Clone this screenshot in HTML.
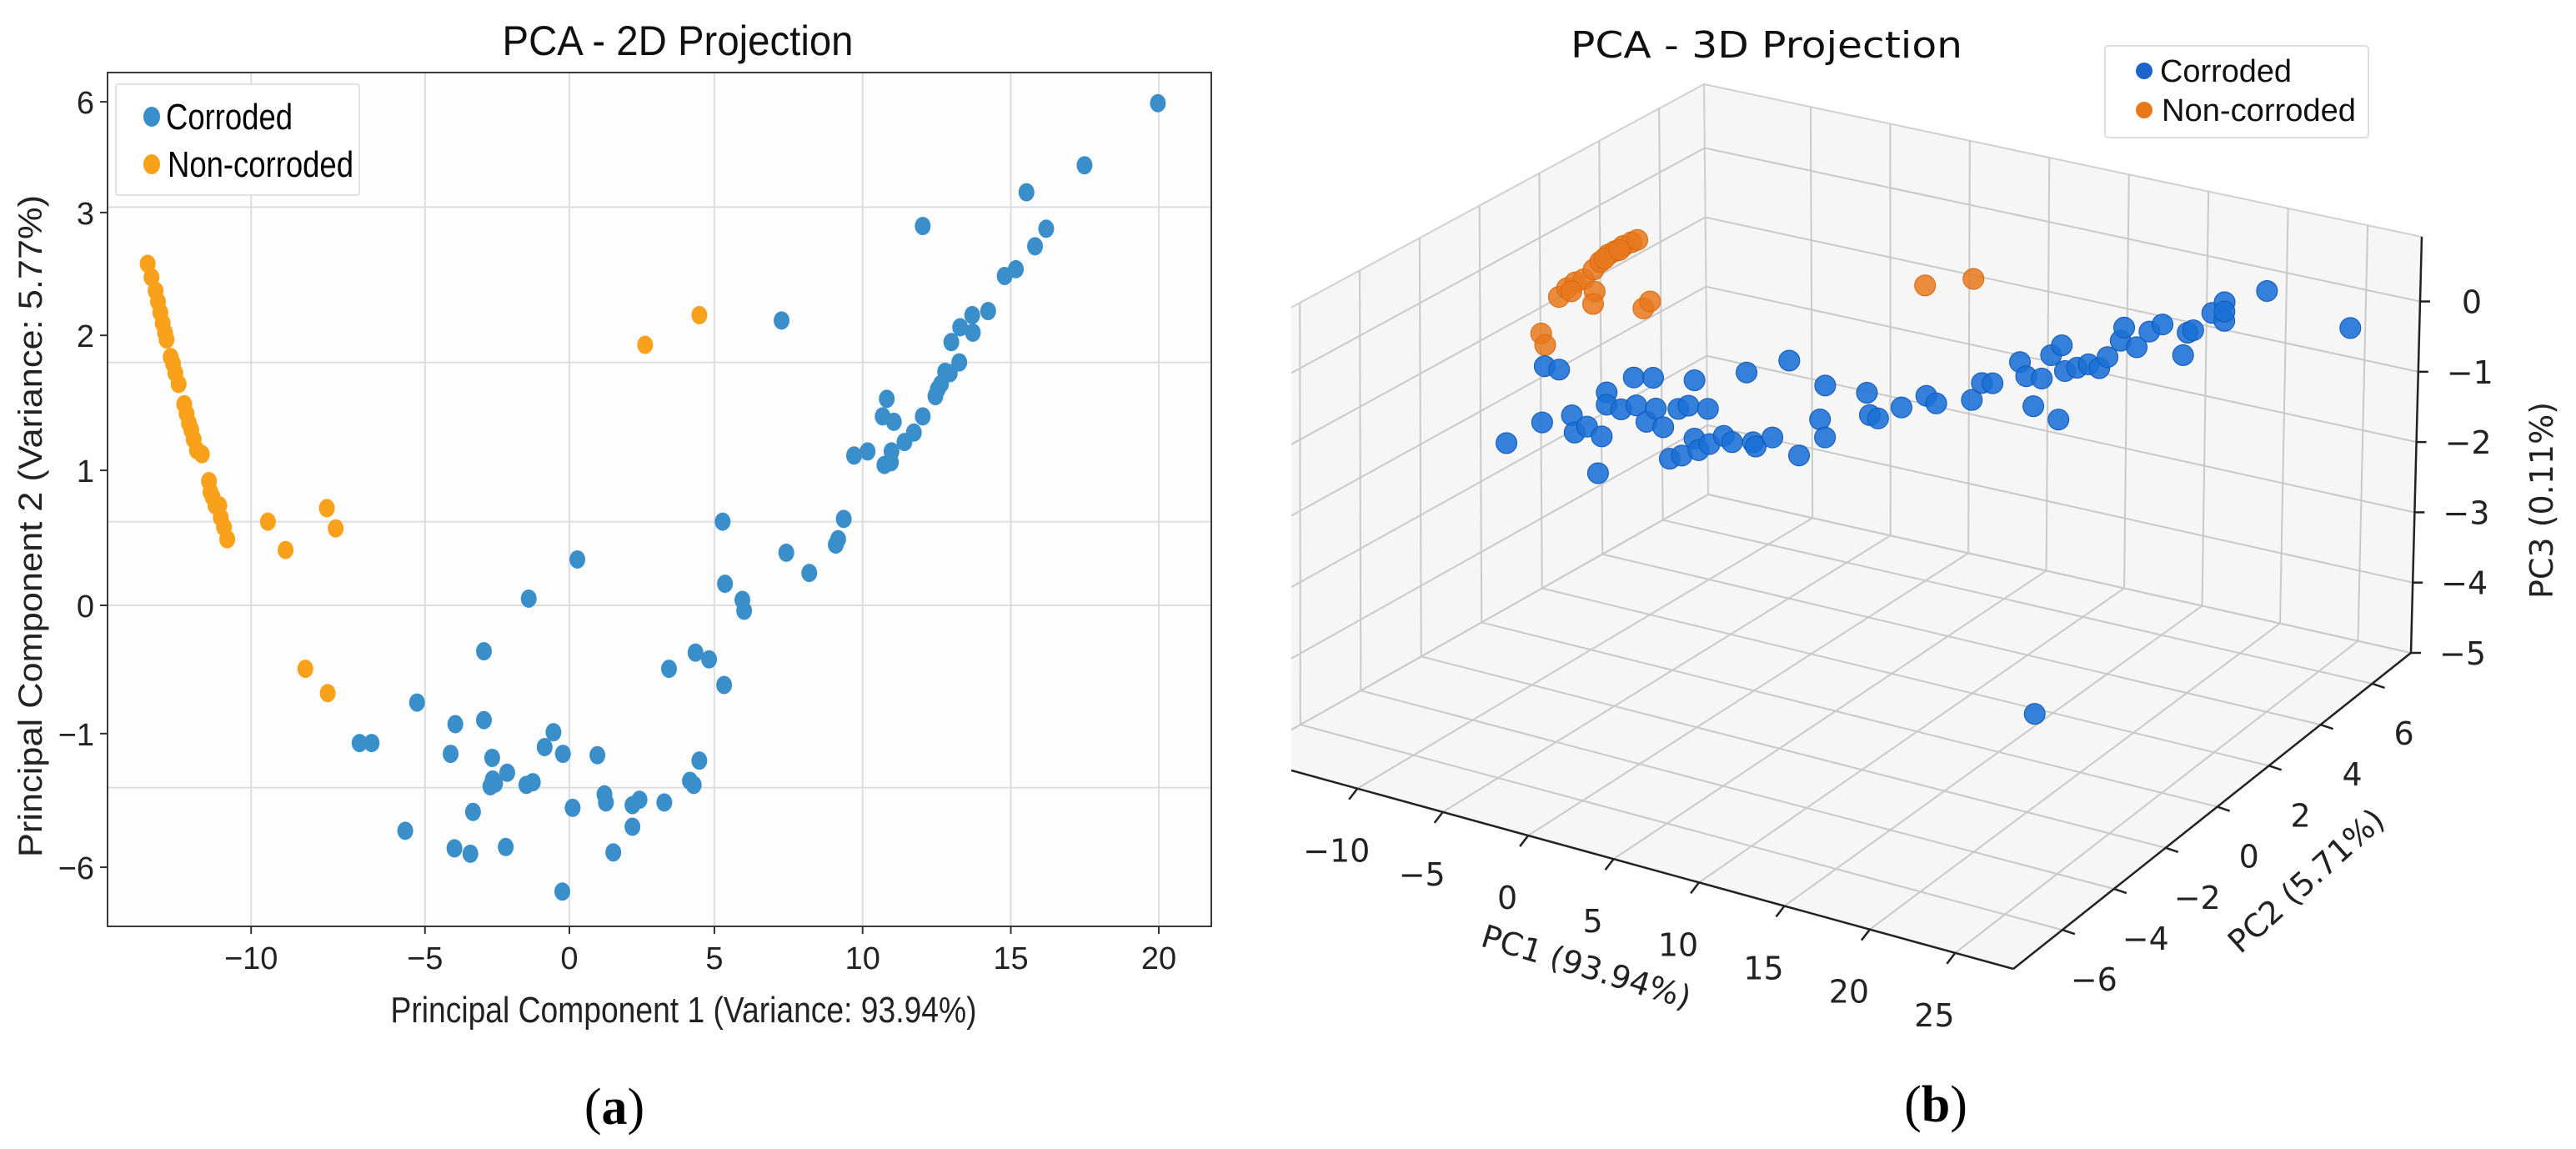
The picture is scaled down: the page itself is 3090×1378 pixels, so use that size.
<!DOCTYPE html>
<html><head><meta charset="utf-8"><title>PCA projections</title>
<style>
html,body{margin:0;padding:0;background:#fff;}
svg{display:block;}
</style></head>
<body>
<svg id="fig" width="3090" height="1378" viewBox="0 0 3090 1378" xmlns="http://www.w3.org/2000/svg">
  <rect x="0" y="0" width="3090" height="1378" fill="#ffffff"/>
  <g id="left">
    <rect x="129" y="87" width="1324" height="1024" fill="#fdfdfd"/>
    <g id="lgrid"></g>
    <g id="lpts"></g>
    <rect x="129" y="87" width="1324" height="1024" fill="none" stroke="#3a3a3a" stroke-width="2"/>
    <g id="lticks"></g>
    <text x="813" y="66" font-family="Liberation Sans, sans-serif" font-size="50" text-anchor="middle" textLength="421" lengthAdjust="spacingAndGlyphs" fill="#111">PCA - 2D Projection</text>
    <text x="820" y="1226" font-family="Liberation Sans, sans-serif" font-size="44" text-anchor="middle" textLength="703" lengthAdjust="spacingAndGlyphs" fill="#222">Principal Component 1 (Variance: 93.94%)</text>
    <text transform="translate(50,631) rotate(-90)" font-family="Liberation Sans, sans-serif" font-size="40" text-anchor="middle" textLength="794" lengthAdjust="spacingAndGlyphs" fill="#222">Principal Component 2 (Variance: 5.77%)</text>
    <g>
      <rect x="139" y="101" width="292" height="133" fill="#ffffff" stroke="#e2e2e2" stroke-width="2" rx="3"/>
      <ellipse cx="182" cy="140" rx="10" ry="12" fill="#3a8fcb"/>
      <text x="199" y="155" font-family="Liberation Sans, sans-serif" font-size="44" textLength="152" lengthAdjust="spacingAndGlyphs" fill="#000">Corroded</text>
      <ellipse cx="182" cy="197" rx="10" ry="12" fill="#f9a11b"/>
      <text x="201" y="212" font-family="Liberation Sans, sans-serif" font-size="44" textLength="223" lengthAdjust="spacingAndGlyphs" fill="#000">Non-corroded</text>
    </g>
    <text x="737" y="1348" font-family="Liberation Serif, serif" font-size="62" text-anchor="middle" fill="#000">(<tspan font-weight="bold">a</tspan>)</text>
  </g>

  <defs><clipPath id="rclip"><rect x="1549" y="0" width="1541" height="1378"/></clipPath></defs>
  <g id="right">
    <g clip-path="url(#rclip)">
      <g id="rpanes"></g>
      <g id="rgrid"></g>
      <g id="raxes"></g>
      <g id="rpts"></g>
    </g>
    <g id="rlabels"></g>
    <text x="2119" y="69" font-family="DejaVu Sans, sans-serif" font-size="44" text-anchor="middle" textLength="470" lengthAdjust="spacingAndGlyphs" fill="#111">PCA - 3D Projection</text>
    <text transform="translate(1899,1172) rotate(17)" font-family="DejaVu Sans, sans-serif" font-size="38" text-anchor="middle" fill="#222">PC1 (93.94%)</text>
    <text transform="translate(2775,1066) rotate(-42)" font-family="DejaVu Sans, sans-serif" font-size="38" text-anchor="middle" fill="#222">PC2 (5.71%)</text>
    <text transform="translate(3062,600) rotate(-90)" font-family="DejaVu Sans, sans-serif" font-size="38" text-anchor="middle" fill="#222">PC3 (0.11%)</text>
    <g>
      <rect x="2525" y="55" width="316" height="110" fill="#ffffff" stroke="#dddddd" stroke-width="2" rx="4"/>
      <circle cx="2572" cy="85" r="10" fill="#1a64cc"/>
      <text x="2591" y="98" font-family="Liberation Sans, sans-serif" font-size="38" textLength="158" lengthAdjust="spacingAndGlyphs" fill="#111">Corroded</text>
      <circle cx="2572" cy="132" r="10" fill="#e8781c"/>
      <text x="2593" y="145" font-family="Liberation Sans, sans-serif" font-size="38" textLength="233" lengthAdjust="spacingAndGlyphs" fill="#111">Non-corroded</text>
    </g>
    <text x="2322" y="1345" font-family="Liberation Serif, serif" font-size="62" text-anchor="middle" fill="#000">(<tspan font-weight="bold">b</tspan>)</text>
  </g>
</svg>
<script>
// ---------- 2D chart data ----------
const xTickLabels2d = ["\u221210","\u22125","0","5","10","15","20"];
const xTickAt2d = [-10.8,-4.9,0,4.92,9.95,14.98,20];
const yTickLabels2d = ["6","3","2","1","0","\u22121","\u22126"];
const yTickAt2d = [3.73,2.91,2.0,1.0,0,-0.95,-1.94];
const hGridAt2d = [2.95,1.80,0.62,0,-1.35];
const corrodedX2d = [19.97,17.48,15.51,16.18,15.80,11.99,15.15,14.77,14.21,13.67,13.69,13.26,12.96,13.23,12.91,12.75,12.61,12.50,12.42,11.99,11.69,11.37,11.01,10.77,10.63,10.93,10.91,10.69,10.12,9.66,9.31,9.12,9.04,8.14,7.36,7.20,5.20,5.28,5.87,5.93,4.28,4.74,5.25,3.38,4.41,4.09,4.22,3.22,2.14,2.38,2.14,1.49,1.19,1.24,0.95,0.11,0.27,-0.24,-0.22,-0.54,-0.84,-1.38,-1.24,-1.46,-2.11,-2.16,-2.60,-2.52,-2.68,-2.62,-2.90,-2.90,-3.27,-3.36,-3.87,-3.90,-4.03,-5.17,-5.57,-6.71,-7.12];
const corrodedY2d = [3.72,3.26,3.06,2.79,2.66,2.81,2.49,2.44,2.18,2.15,2.02,2.06,1.95,1.80,1.72,1.73,1.64,1.60,1.55,1.40,1.28,1.21,1.36,1.53,1.40,1.14,1.06,1.04,1.14,1.11,0.64,0.49,0.45,0.24,0.39,2.11,0.62,0.16,0.04,-0.04,-0.35,-0.40,-0.59,-0.47,-1.15,-1.30,-1.33,-1.46,-1.48,-1.44,-1.64,-1.83,-1.40,-1.46,-1.11,-1.50,0.34,-2.12,-1.10,-0.94,-1.05,0.05,-1.31,-1.33,-1.24,-1.79,-1.29,-1.32,-1.34,-1.13,-0.34,-0.85,-1.53,-1.84,-0.88,-1.80,-1.10,-0.72,-1.67,-1.02,-1.02];
const nonCorrodedX2d = [-14.31,-14.18,-14.04,-13.96,-13.88,-13.80,-13.72,-13.67,-13.53,-13.45,-13.37,-13.26,-13.07,-12.99,-12.91,-12.83,-12.75,-12.64,-12.47,-12.23,-12.18,-12.10,-12.01,-11.88,-11.83,-11.72,-11.61,-10.23,-9.63,-8.23,-7.93,-8.96,-8.20,2.57,4.41];
const nonCorrodedY2d = [2.53,2.43,2.33,2.25,2.17,2.09,2.02,1.97,1.84,1.79,1.72,1.64,1.49,1.42,1.35,1.30,1.23,1.15,1.12,0.92,0.84,0.80,0.74,0.74,0.65,0.58,0.49,0.62,0.41,0.72,0.57,-0.47,-0.65,1.93,2.15];

// ---------- 3D chart data ----------
const pc1Ticks = [-10,-5,0,5,10,15,20,25];
const pc2Ticks = [-6,-4,-2,0,2,4,6];
const pc3Ticks = [0,-1,-2,-3,-4,-5];
const corrodedPC1 = [-7.72,-6.25,-6.15,-5.55,-5.03,-4.92,-4.40,-3.95,-3.80,-3.59,-3.59,-3.00,-2.47,-2.37,-1.95,-1.67,-1.56,-1.25,-0.98,-0.62,-0.48,-0.20,0.04,0.04,0.22,0.61,0.67,1.27,1.62,2.21,2.49,2.60,3.30,4.00,4.42,5.29,5.51,5.51,7.26,7.39,7.74,8.72,9.77,10.19,11.70,12.12,12.57,13.73,14.00,14.32,14.67,15.06,15.40,15.51,15.65,16.17,16.66,17.12,17.47,18.03,18.17,18.72,19.26,19.81,20.72,20.90,21.14,21.95,22.47,22.47,22.47,24.30,27.95,14.49];
const corrodedPC2 = [-4.14,-3.76,-3.73,-3.58,-3.44,-3.41,-3.28,-3.16,-3.12,-3.07,-3.07,-2.91,-2.78,-2.75,-2.64,-2.57,-2.54,-2.46,-2.39,-2.30,-2.26,-2.19,-2.12,-2.12,-2.08,-1.98,-1.96,-1.81,-1.72,-1.56,-1.49,-1.46,-1.28,-1.10,-0.99,-0.76,-0.71,-0.71,-0.25,-0.22,-0.13,0.13,0.40,0.51,0.90,1.01,1.13,1.43,1.50,1.58,1.67,1.77,1.86,1.89,1.93,2.06,2.19,2.31,2.40,2.54,2.58,2.72,2.86,3.01,3.24,3.29,3.35,3.56,3.70,3.70,3.70,4.17,5.12,1.63];
const corrodedPC3 = [-0.97,-0.69,0.09,0.04,-0.60,-0.84,-0.76,-1.41,-0.90,-0.29,-0.46,-0.53,-0.09,-0.48,-0.71,-0.10,-0.53,-0.79,-1.23,-0.54,-1.19,-0.50,-0.15,-0.96,-1.12,-0.55,-1.04,-0.93,-1.02,-0.06,-1.03,-1.09,-0.97,0.09,-1.23,-0.74,-0.27,-0.99,-0.39,-0.70,-0.75,-0.61,-0.46,-0.57,-0.54,-0.31,-0.32,-0.04,-0.24,-0.66,-0.28,0.04,-0.86,0.17,-0.19,-0.15,-0.11,-0.17,-0.02,0.20,0.38,0.10,0.31,0.40,-0.04,0.27,0.30,0.53,0.67,0.41,0.54,0.80,0.22,-4.94];
const nonCorrodedPC1 = [-15.30,-15.06,-14.20,-13.70,-13.19,-12.68,-12.07,-11.67,-11.16,-10.76,-10.25,-9.74,-9.39,-12.01,-12.11,-9.03,-8.62,-13.44,-11.41,-10.49,9.67,11.73];
const nonCorrodedPC2 = [1.27,1.27,1.27,1.27,1.27,1.27,1.27,1.27,1.27,1.27,1.27,1.27,1.27,1.27,1.27,1.27,1.27,1.27,1.27,1.27,0.39,0.91];
const nonCorrodedPC3 = [-1.12,-1.27,-0.54,-0.39,-0.28,-0.21,-0.04,0.09,0.22,0.29,0.39,0.47,0.52,-0.35,-0.53,-0.43,-0.31,-0.42,0.15,0.32,1.07,1.14];

const NS = "http://www.w3.org/2000/svg";
function mk(tag, attrs, parent){
  const e = document.createElementNS(NS, tag);
  for (const k in attrs) e.setAttribute(k, attrs[k]);
  parent.appendChild(e);
  return e;
}

// ---------- 2D chart ----------
const sx = v => 683 + 35.35 * v;
const sy = v => 726 - 161.9 * v;
const lgrid = document.getElementById('lgrid');
const lticks = document.getElementById('lticks');
const lpts = document.getElementById('lpts');
xTickAt2d.forEach((v, i) => {
  const X = sx(v);
  const g = mk('line', {x1:X, y1:87, x2:X, y2:1111, stroke:'#dedede', 'stroke-width':2}, lgrid);
  
  
  const t = mk('line', {x1:X, y1:1111, x2:X, y2:1120, stroke:'#333', 'stroke-width':2}, lticks);
  
  
  const lb = mk('text', {x:X, y:1162, 'font-family':'Liberation Sans, sans-serif', 'font-size':38, 'text-anchor':'middle', fill:'#222'}, lticks);
  lb.textContent = xTickLabels2d[i];
  
  
});
hGridAt2d.forEach(v => {
  const Y = sy(v);
  const g = mk('line', {x1:129, y1:Y, x2:1453, y2:Y, stroke:'#dedede', 'stroke-width':2}, lgrid);
  
  
});
yTickAt2d.forEach((v, i) => {
  const Y = sy(v);
  const t = mk('line', {x1:120, y1:Y, x2:129, y2:Y, stroke:'#333', 'stroke-width':2}, lticks);
  
  
  const lb = mk('text', {x:113, y:Y + 14, 'font-family':'Liberation Sans, sans-serif', 'font-size':38, 'text-anchor':'end', fill:'#222'}, lticks);
  lb.textContent = yTickLabels2d[i];
  
  
});
nonCorrodedX2d.forEach((v, i) => {
  const p = mk('ellipse', {cx:sx(v), cy:sy(nonCorrodedY2d[i]), rx:9.5, ry:11, fill:'#f9a11b'}, lpts);
  
  
});
corrodedX2d.forEach((v, i) => {
  const p = mk('ellipse', {cx:sx(v), cy:sy(corrodedY2d[i]), rx:9.5, ry:11, fill:'#3a8fcb'}, lpts);
  
  
});

// ---------- 3D chart ----------
const XR = [-16.7, 28.4], YR = [-7.9, 7.5], ZR = [-5, 0.92];
// screen corners of the box (layout): C[xi][yi][zi]
const C = {
  '000':[1491,908], '100':[2415,1162], '010':[2049,593], '110':[2892,783],
  '001':[1491,400], '101':[2415,617], '011':[2044,101], '111':[2905,284]
};
function proj(x, y, z){
  const u = (x - XR[0]) / (XR[1] - XR[0]);
  const v = (y - YR[0]) / (YR[1] - YR[0]);
  const w = (z - ZR[0]) / (ZR[1] - ZR[0]);
  const out = [0,0];
  for (let k = 0; k < 2; k++) {
    const c00 = C['000'][k]*(1-u) + C['100'][k]*u;
    const c10 = C['010'][k]*(1-u) + C['110'][k]*u;
    const c01 = C['001'][k]*(1-u) + C['101'][k]*u;
    const c11 = C['011'][k]*(1-u) + C['111'][k]*u;
    const b = c00*(1-v) + c10*v;
    const t = c01*(1-v) + c11*v;
    out[k] = b*(1-w) + t*w;
  }
  return out;
}
const rpanes = document.getElementById('rpanes');
const rgrid = document.getElementById('rgrid');
const raxes = document.getElementById('raxes');
const rpts = document.getElementById('rpts');
const rlabels = document.getElementById('rlabels');
function poly(pts, attrs, parent){
  return mk('polygon', Object.assign({points: pts.map(p => p.join(',')).join(' ')}, attrs), parent);
}
function seg(a, b, attrs, parent){
  return mk('line', Object.assign({x1:a[0], y1:a[1], x2:b[0], y2:b[1]}, attrs), parent);
}
const paneStyle = {fill:'#f6f6f6', stroke:'#d0d0d0', 'stroke-width':2};
const floorPane = poly([proj(XR[0],YR[0],ZR[0]), proj(XR[1],YR[0],ZR[0]), proj(XR[1],YR[1],ZR[0]), proj(XR[0],YR[1],ZR[0])], paneStyle, rpanes);


const backPane = poly([proj(XR[0],YR[1],ZR[0]), proj(XR[1],YR[1],ZR[0]), proj(XR[1],YR[1],ZR[1]), proj(XR[0],YR[1],ZR[1])], paneStyle, rpanes);


const sidePane = poly([proj(XR[0],YR[0],ZR[0]), proj(XR[0],YR[1],ZR[0]), proj(XR[0],YR[1],ZR[1]), proj(XR[0],YR[0],ZR[1])], paneStyle, rpanes);


const gs = {stroke:'#c9c9c9', 'stroke-width':2};
pc1Ticks.forEach(x => {
  const a = seg(proj(x,YR[0],ZR[0]), proj(x,YR[1],ZR[0]), gs, rgrid);
  
  
  const b = seg(proj(x,YR[1],ZR[0]), proj(x,YR[1],ZR[1]), gs, rgrid);
  
  
});
pc2Ticks.forEach(y => {
  const a = seg(proj(XR[0],y,ZR[0]), proj(XR[1],y,ZR[0]), gs, rgrid);
  
  
  const b = seg(proj(XR[0],y,ZR[0]), proj(XR[0],y,ZR[1]), gs, rgrid);
  
  
});
pc3Ticks.forEach(z => {
  const a = seg(proj(XR[0],YR[1],z), proj(XR[1],YR[1],z), gs, rgrid);
  
  
  const b = seg(proj(XR[0],YR[0],z), proj(XR[0],YR[1],z), gs, rgrid);
  
  
});
const ax = {stroke:'#222', 'stroke-width':2.5};
const ax1 = seg(proj(XR[0],YR[0],ZR[0]), proj(XR[1],YR[0],ZR[0]), ax, raxes);


const ax2 = seg(proj(XR[1],YR[0],ZR[0]), proj(XR[1],YR[1],ZR[0]), ax, raxes);


const ax3 = seg(proj(XR[1],YR[1],ZR[0]), proj(XR[1],YR[1],ZR[1]), ax, raxes);


const lf = {'font-family':'DejaVu Sans, sans-serif', 'font-size':38, 'text-anchor':'middle', fill:'#222'};
pc1Ticks.forEach(x => {
  const p = proj(x, YR[0], ZR[0]);
  const t = seg(p, [p[0]-10, p[1]+13], ax, raxes);
  
  
  const lb = mk('text', Object.assign({x:p[0]-25, y:p[1]+88}, lf), rlabels);
  lb.textContent = x < 0 ? '\u2212' + Math.abs(x) : String(x);
  
  
});
pc2Ticks.forEach(y => {
  const p = proj(XR[1], y, ZR[0]);
  const t = seg(p, [p[0]+15, p[1]+5], ax, raxes);
  
  
  const lb = mk('text', Object.assign({x:p[0]+38, y:p[1]+73}, lf), rlabels);
  lb.textContent = y < 0 ? '\u2212' + Math.abs(y) : String(y);
  
  
});
pc3Ticks.forEach(z => {
  const p = proj(XR[1], YR[1], z);
  const t = seg(p, [p[0]+12, p[1]], ax, raxes);
  
  
  const lb = mk('text', Object.assign({x:p[0]+62, y:p[1]+14}, lf), rlabels);
  lb.textContent = z < 0 ? '\u2212' + Math.abs(z) : String(z);
  
  
});
nonCorrodedPC1.forEach((x, i) => {
  const p = proj(x, nonCorrodedPC2[i], nonCorrodedPC3[i]);
  const c = mk('circle', {cx:p[0], cy:p[1], r:12.5, fill:'#e8781c', 'fill-opacity':0.85, stroke:'#d8670e', 'stroke-width':1}, rpts);
  
  
});
corrodedPC1.forEach((x, i) => {
  const p = proj(x, corrodedPC2[i], corrodedPC3[i]);
  const c = mk('circle', {cx:p[0], cy:p[1], r:12.5, fill:'#1a6fd6', 'fill-opacity':0.88, stroke:'#0f56b5', 'stroke-width':1}, rpts);
  
  
});
</script>
</body></html>
